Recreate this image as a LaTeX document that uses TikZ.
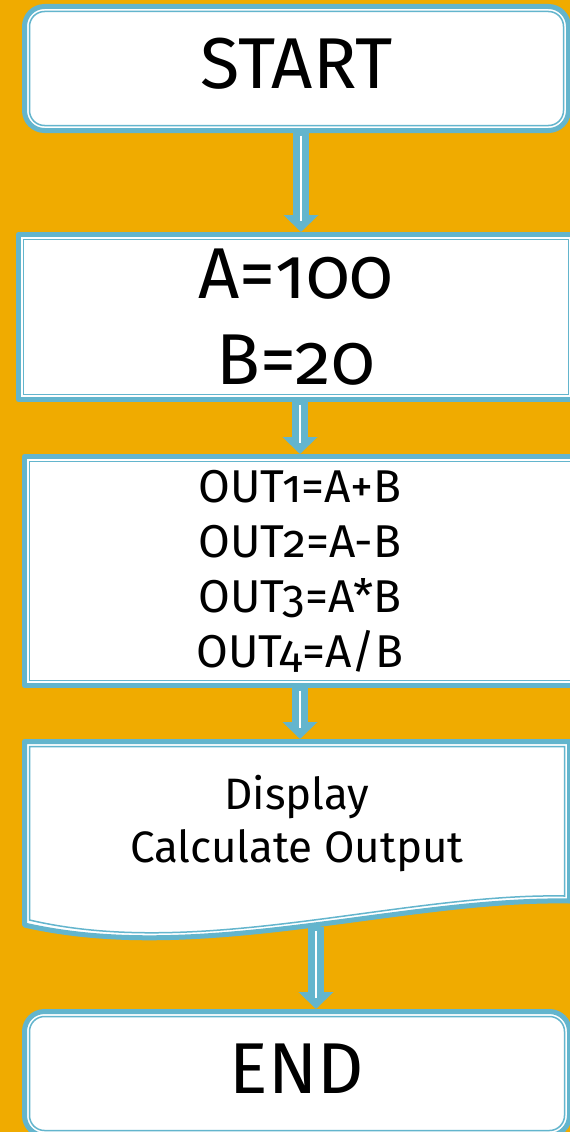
\documentclass[tikz,border=0pt]{standalone}
\usepackage{fontspec}
\setmainfont{Fira Sans}[Numbers=OldStyle]
\usetikzlibrary{arrows.meta}
\definecolor{bgorange}{RGB}{240,171,0}
\definecolor{frameblue}{RGB}{99,181,205}
\tikzset{
  boxframe/.style={draw=frameblue, line width=5pt, fill=white, outer sep=0pt, inner sep=0pt, align=center, line join=round},
  termbox/.style={boxframe, rounded corners=20pt, text depth=10pt},
  procbox/.style={boxframe},
  inframe/.style={draw=frameblue, line width=1.5pt},
  flowarrow/.style={draw=frameblue, line width=16pt, -{Triangle[width=34pt,length=17pt]},
    shorten <=1pt, shorten >=2.5pt,
    postaction={draw=white, line width=1.5pt, -, shorten <=5pt, shorten >=14pt}},
  bigtext/.style={font=\fontsize{72}{86}\selectfont},
  smalltext/.style={font=\fontsize{46}{55}\selectfont},
}
\begin{document}
\begin{tikzpicture}[x=1pt,y=-1pt]
  \clip (0,0) rectangle (570,1132);
  \fill[bgorange] (0,0) rectangle (570,1132);

  % Start
  \node[termbox, bigtext, minimum width=544pt, minimum height=124pt] (start) at (296.5,68.5) {START};
  \draw[inframe, rounded corners=15pt] ([shift={(5,5)}]start.north west) rectangle ([shift={(-5,-5)}]start.south east);

  % Values
  \node[procbox, bigtext, minimum width=555pt, minimum height=165pt] (vals) at (296,317) {A=100\\B=20};
  \draw[inframe] ([shift={(5,5)}]vals.north west) rectangle ([shift={(-5,-5)}]vals.south east);

  % Calculation
  \node[procbox, smalltext, minimum width=551pt, minimum height=229pt] (outs) at (300,571) {OUT1=A+B\\OUT2=A-B\\OUT3=A*B\\OUT4=A/B};
  \draw[inframe] ([shift={(5,5)}]outs.north west) rectangle ([shift={(-5,-5)}]outs.south east);

  % Display (document shape)
  \filldraw[fill=white, draw=frameblue, line width=5pt, line join=round]
    (24.5,741.5) -- (569.5,741.5) -- (569.5,901) .. controls (400,898) and (200,965) .. (24.5,925) -- cycle;
  \draw[inframe]
    (29.5,746.5) -- (564.5,746.5) -- (564.5,896) .. controls (400,893) and (200,960) .. (29.5,920) -- cycle;
  \node[align=center, font=\fontsize{44}{53}\selectfont] (disp) at (297,824) {Display\\Calculate Output};
  \coordinate (doctop) at (300,741.5);
  \coordinate (docbot) at (316,926);

  % End
  \node[termbox, bigtext, minimum width=545pt, minimum height=124pt] (end) at (297,1073.5) {END};
  \draw[inframe, rounded corners=15pt] ([shift={(5,5)}]end.north west) rectangle ([shift={(-5,-5)}]end.south east);

  % Arrows
  \draw[flowarrow] ([xshift=4.5pt]start.south) -- ([xshift=5pt]vals.north);
  \draw[flowarrow] ([xshift=4pt]vals.south) -- (outs.north);
  \draw[flowarrow] (outs.south) -- (doctop);
  \draw[flowarrow] (docbot) -- ([xshift=19pt]end.north);
\end{tikzpicture}
\end{document}
